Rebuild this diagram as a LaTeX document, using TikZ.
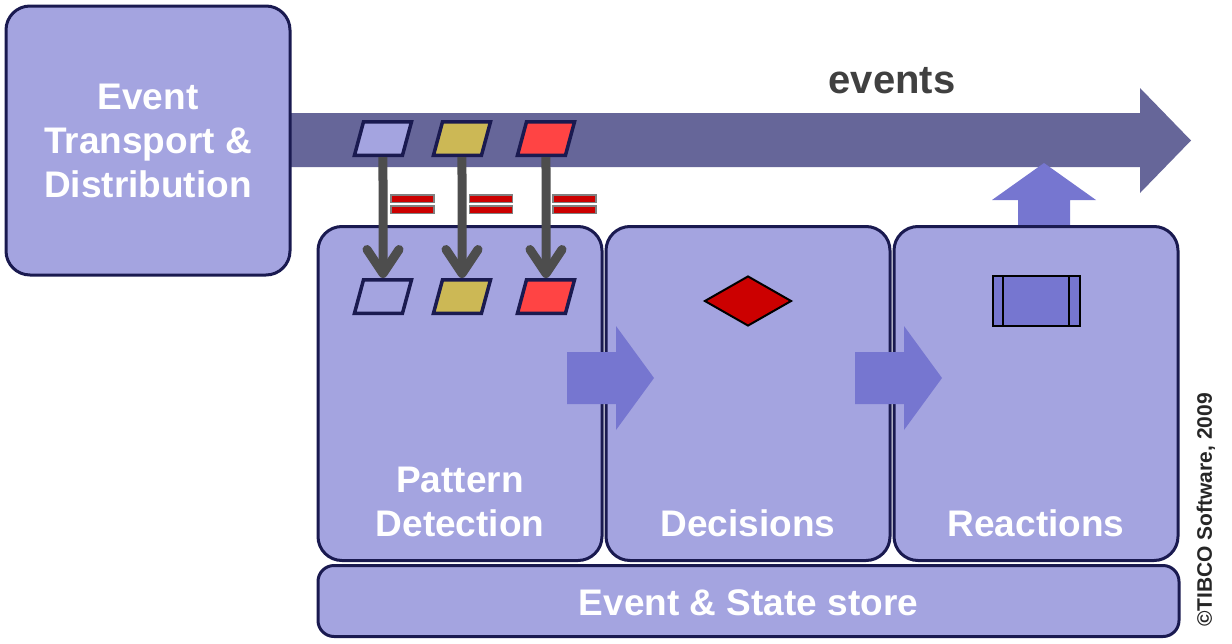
\documentclass[tikz,border=0pt]{standalone}
\usepackage{fontspec}
\setmainfont{Liberation Sans}
\usetikzlibrary{positioning}
\usetikzlibrary{arrows.meta}
\usetikzlibrary{shapes.geometric}

\definecolor{boxfill}{HTML}{A4A4E0}
\definecolor{boxline}{HTML}{1A1A50}
\definecolor{flowcol}{HTML}{666699}
\definecolor{pushcol}{HTML}{7676D0}
\definecolor{pipecol}{HTML}{4D4D4D}
\definecolor{ochre}{HTML}{CCB855}
\definecolor{alarm}{HTML}{FF4444}
\definecolor{rulered}{HTML}{CC0000}
\definecolor{evtext}{HTML}{404040}

\begin{document}
\begin{tikzpicture}[x=1pt, y=-1pt,
		stage/.style={draw=boxline, fill=boxfill, line width=3pt, rounded corners=24pt, minimum width=284pt, minimum height=334pt, inner sep=0pt},
		stagefont/.style={text=white, font=\fontsize{37}{44}\selectfont\bfseries, align=center},
		stagetext/.style={stagefont, inner sep=0pt, text depth=0pt},
		evt/.style={draw=boxline, line width=3.5pt, minimum width=48pt, minimum height=33.5pt, inner sep=0pt, transform shape},
		eqbar/.style={draw=gray, fill=rulered, line width=1.5pt, minimum width=43pt, minimum height=7.5pt, inner sep=0pt},
		pipe/.style={draw=pipecol, line width=9pt, -{Straight Barb[round, length=24pt, width=32pt]}}
		]
		\useasboundingbox (0,0) rectangle (1232,643);
		
		% Event stream
		\fill[flowcol] (250,113) -- (1140,113) -- (1140,88) -- (1191,140.5) -- (1140,193) -- (1140,167) -- (250,167) -- cycle;
		\fill[pushcol] (1018,240) -- (1018,200) -- (992,200) -- (1044,163) -- (1096,200) -- (1070,200) -- (1070,240) -- cycle;
		\node[font=\fontsize{40}{42}\selectfont\bfseries, text=evtext, anchor=base] (evlabel) at (892,93) {events};
		
		% Stages
		\node[stage, minimum height=269pt, stagefont] (transport) at (148,140.5) {Event\\Transport \&\\Distribution};
		\node[stage] (pattern) at (460,393.5) {};
		\node[stage, right=1pt of pattern] (decisions) {};
		\node[stage, right=1pt of decisions] (reactions) {};
		\node[stage, rounded corners=16pt, minimum width=861pt, minimum height=71pt, below=2pt of pattern.south west, anchor=north west] (store) {};
		
		\node[stagetext, above=25pt of pattern.south] (ptext) {Pattern\\Detection};
		\node[stagetext, above=25pt of decisions.south] (dtext) {Decisions};
		\node[stagetext, above=25pt of reactions.south] (rtext) {Reactions};
		\node[stagetext, above=22pt of store.south] (stext) {Event \& State store};
		
		% Flow between stages
		\fill[pushcol] (567,352) -- (616,352) -- (616,326) -- (654,378) -- (616,430) -- (616,404) -- (567,404) -- cycle;
		\fill[pushcol] (855,352) -- (904,352) -- (904,326) -- (942,378) -- (904,430) -- (904,404) -- (855,404) -- cycle;
		
		% Decision and action
		\node[diamond, draw=black, fill=rulered, line width=2pt, minimum width=87pt, minimum height=50pt, inner sep=0pt, below=50pt of decisions.north] (choice) {};
		\node[draw=black, fill=pushcol, line width=2pt, minimum width=87pt, minimum height=50pt, inner sep=0pt, below=50pt of reactions.north] (action) {};
		\draw[black, line width=2pt] ([xshift=11pt]action.north west) -- ([xshift=11pt]action.south west);
		\draw[black, line width=2pt] ([xshift=-12pt]action.north east) -- ([xshift=-12pt]action.south east);
		
		% Events in, events matched
		\begin{scope}[shift={(383,138.5)}, xslant=0.27]
			\node[evt, fill=boxfill] (p1) at (0,0) {};
		\end{scope}
		\begin{scope}[shift={(462,138.5)}, xslant=0.27]
			\node[evt, fill=ochre] (p2) at (0,0) {};
		\end{scope}
		\begin{scope}[shift={(546,138.5)}, xslant=0.27]
			\node[evt, fill=alarm] (p3) at (0,0) {};
		\end{scope}
		\begin{scope}[shift={(383,296.5)}, xslant=0.27]
			\node[evt, fill=boxfill] (q1) at (0,0) {};
		\end{scope}
		\begin{scope}[shift={(462,296.5)}, xslant=0.27]
			\node[evt, fill=ochre] (q2) at (0,0) {};
		\end{scope}
		\begin{scope}[shift={(546,296.5)}, xslant=0.27]
			\node[evt, fill=alarm] (q3) at (0,0) {};
		\end{scope}
		
		\draw[pipe] (p1) -- (q1);
		\draw[pipe] (p2) -- (q2);
		\draw[pipe] (p3) -- (q3);
		
		\node[eqbar] (e1a) at (412.5,198.5) {};
		\node[eqbar, below=2pt of e1a] (e1b) {};
		\node[eqbar] (e2a) at (491,198.5) {};
		\node[eqbar, below=2pt of e2a] (e2b) {};
		\node[eqbar] (e3a) at (574.5,198.5) {};
		\node[eqbar, below=2pt of e3a] (e3b) {};
		
		\node[rotate=90, font=\fontsize{21}{24}\selectfont\bfseries, text=black!85] (credit) at (1206,510) {\textcopyright TIBCO Software, 2009};
	\end{tikzpicture}
\end{document}
